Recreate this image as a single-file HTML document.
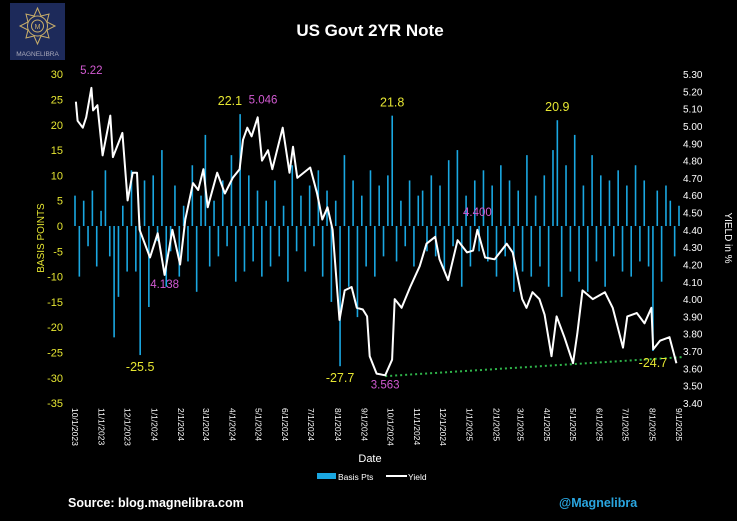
<!DOCTYPE html>
<html><head><meta charset="utf-8">
<style>
html,body{margin:0;padding:0;background:#000;}
body{width:737px;height:516px;overflow:hidden;font-family:"Liberation Sans",sans-serif;}
svg text{font-family:"Liberation Sans",sans-serif;}
</style></head>
<body>
<svg id="chart" width="737" height="516" viewBox="0 0 737 516" xmlns="http://www.w3.org/2000/svg">
<rect width="737" height="516" fill="#000"/>
<g>
<rect x="10" y="3" width="55" height="57" fill="#1d2a5a"/>
<g fill="none" stroke="#c9ae6a" stroke-width="1">
<polygon points="37.5,8 41,16 49,14 47,22 55,26 47,30 49,38 41,36 37.5,44 34,36 26,38 28,30 20,26 28,22 26,14 34,16"/>
<circle cx="37.5" cy="26" r="10"/>
<circle cx="37.5" cy="26" r="6"/>
</g>
<text x="37.5" y="29" font-size="7" fill="#c9ae6a" text-anchor="middle">M</text>
<text x="37.5" y="56" font-size="6.5" fill="#aab" text-anchor="middle">MAGNELIBRA</text>
</g>
<text x="370" y="36" font-size="17" font-weight="bold" fill="#fff" text-anchor="middle">US Govt 2YR Note</text>
<text transform="translate(44,238) rotate(-90)" font-size="10" fill="#e6e632" text-anchor="middle">BASIS POINTS</text>
<text transform="translate(725,238) rotate(90)" font-size="10" fill="#fff" text-anchor="middle">YIELD in %</text>
<g id="leftTicks"></g>
<g id="rightTicks"></g>
<g id="xTicks"></g>
<g id="bars"></g>
<g id="lines"></g>
<g id="annots"></g>
<text x="370" y="462" font-size="11" fill="#fff" text-anchor="middle">Date</text>
<g>
<rect x="317" y="473" width="19" height="6" fill="#1aa7e1"/>
<text x="338" y="480" font-size="8.5" fill="#fff">Basis Pts</text>
<line x1="386" y1="476" x2="407" y2="476" stroke="#fff" stroke-width="2"/>
<text x="408" y="480" font-size="8.5" fill="#fff">Yield</text>
</g>
<text x="68" y="507" font-size="12.5" font-weight="bold" fill="#fff">Source: blog.magnelibra.com</text>
<text x="559" y="507" font-size="12.5" font-weight="bold" fill="#2aa6e0">@Magnelibra</text>
</svg>
<script>
const leftTickVals = [30,25,20,15,10,5,0,-5,-10,-15,-20,-25,-30,-35];
const rightTickVals = [5.30,5.20,5.10,5.00,4.90,4.80,4.70,4.60,4.50,4.40,4.30,4.20,4.10,4.00,3.90,3.80,3.70,3.60,3.50,3.40];
const monthLabels = ["10/1/2023","11/1/2023","12/1/2023","1/1/2024","2/1/2024","3/1/2024","4/1/2024","5/1/2024","6/1/2024","7/1/2024","8/1/2024","9/1/2024","10/1/2024","11/1/2024","12/1/2024","1/1/2025","2/1/2025","3/1/2025","4/1/2025","5/1/2025","6/1/2025","7/1/2025","8/1/2025","9/1/2025"];
const yieldDays = [1,3,9,13,19,21,26,32,41,44,55,61,67,72,75,87,96,104,113,122,128,137,143,149,154,165,174,183,191,195,200,205,212,217,224,229,241,249,253,258,273,281,287,293,299,307,313,321,327,334,339,342,350,360,368,371,379,389,400,408,418,423,433,444,455,462,467,476,487,501,508,519,524,531,539,545,553,559,568,578,583,589,601,615,624,636,641,652,661,669,671,679,690,698];
const yieldVals = [5.14,5.03,4.99,5.05,5.22,5.09,5.12,4.83,5.06,4.82,4.96,4.57,4.73,4.73,4.40,4.24,4.38,4.14,4.40,4.20,4.46,4.67,4.63,4.75,4.53,4.73,4.61,4.70,4.75,4.92,4.99,4.94,5.05,4.80,4.86,4.75,4.99,4.73,4.88,4.70,4.76,4.61,4.46,4.53,4.40,3.88,4.05,4.07,3.95,3.94,3.90,3.67,3.57,3.56,3.65,4.00,3.95,4.07,4.19,4.32,4.36,4.23,4.11,4.34,4.27,4.28,4.40,4.24,4.23,4.32,4.27,4.00,3.95,4.04,4.00,3.91,3.67,3.90,3.78,3.63,3.80,4.05,4.00,4.04,3.95,3.72,3.90,3.92,3.86,3.95,3.71,3.76,3.78,3.63];
const bpsVals = [6,-10,5,-4,7,-8,3,11,-6,-22,-14,4,-9,11,-9,-25.5,9,-16,10,-3,15,-12,-5,8,-10,4,-7,12,-13,6,18,-8,5,-6,9,-4,14,-11,22.1,-9,10,-7,7,-10,5,-8,9,-6,4,-11,12,-5,6,-9,8,-4,11,-10,7,-15,5,-27.7,14,-12,9,-18,6,-8,11,-10,8,-6,10,21.8,-7,5,-4,9,-8,6,7,-5,10,-6,8,-9,13,-4,15,-12,6,-8,9,-5,11,-7,8,-10,12,-6,9,-13,7,-9,14,-10,6,-8,10,-12,15,20.9,-14,12,-9,18,-11,8,-13,14,-7,10,-12,9,-6,11,-9,8,-10,12,-7,9,-8,-24.7,7,-11,8,5,-6,4];
const trendDays = [360,705];
const trendVals = [3.555,3.665];
const yieldNotes = [["5.22",19,"#d25ad2"],["5.046",212,"#d25ad2"],["4.138",104,"#d25ad2"],["4.400",467,"#d25ad2"],["3.563",360,"#d25ad2"]];
const bpsNotes = [["22.1",38],["21.8",73],["20.9",111],["-25.5",15],["-27.7",61],["-24.7",133]];

const NS="http://www.w3.org/2000/svg";
const TOTAL_DAYS=701;
function xOfDay(d){return 75+d*(604/TOTAL_DAYS);}
function yLeft(v){return 226-v*(329/65);}
function yRight(v){return 74+(5.30-v)*(329/1.9);}
function mk(tag,attrs,parent){const e=document.createElementNS(NS,tag);for(const k in attrs)e.setAttribute(k,attrs[k]);parent.appendChild(e);return e;}

const lt=document.getElementById('leftTicks');
leftTickVals.forEach(v=>{const t=mk('text',{x:63,y:yLeft(v)+4,'font-size':11,fill:'#e6e632','text-anchor':'end'},lt);t.textContent=v;

});
const rt=document.getElementById('rightTicks');
rightTickVals.forEach(v=>{const t=mk('text',{x:683,y:yRight(v)+4,'font-size':10,fill:'#fff'},rt);t.textContent=v.toFixed(2);

});
const xt=document.getElementById('xTicks');
const base=Date.UTC(2023,9,1);
monthLabels.forEach(lbl=>{const p=lbl.split('/');const d=(Date.UTC(+p[2],+p[0]-1,+p[1])-base)/86400000;const x=xOfDay(d);
const t=mk('text',{transform:`translate(${x-3},408) rotate(90)`,'font-size':8.5,fill:'#fff'},xt);t.textContent=lbl;

});

const bg=document.getElementById('bars');
const n=bpsVals.length;
bpsVals.forEach((v,i)=>{const x=xOfDay(i*TOTAL_DAYS/(n-1));const y0=yLeft(0),y1=yLeft(v);
const r=mk('rect',{x:x-0.8,y:Math.min(y0,y1),width:1.6,height:Math.max(0.5,Math.abs(y1-y0)),fill:'#1aa7e1'},bg);

});

const lg=document.getElementById('lines');
const tl=mk('line',{x1:xOfDay(trendDays[0]),y1:yRight(trendVals[0]),x2:xOfDay(trendDays[1]),y2:yRight(trendVals[1]),stroke:'#2fb44a','stroke-width':2,'stroke-dasharray':'2,3'},lg);


const pts=yieldDays.map((d,i)=>xOfDay(d).toFixed(1)+','+yRight(yieldVals[i]).toFixed(1)).join(' ');
const pl=mk('polyline',{points:pts,fill:'none',stroke:'#fff','stroke-width':2,'stroke-linejoin':'round'},lg);



const an=document.getElementById('annots');
yieldNotes.forEach(([txt,d,c])=>{const i=yieldDays.indexOf(d);const x=xOfDay(d),y=yRight(yieldVals[i]);const low=yieldVals[i]<4.2&&txt!=="4.400";
const ty=low? y+13 : y-14;
const t=mk('text',{x:txt==="5.046"?x-9:x,y:ty,'font-size':11.5,fill:c,'text-anchor':txt==="5.046"?'start':'middle'},an);t.textContent=txt;

});
bpsNotes.forEach(([txt,i])=>{const v=bpsVals[i];const x=xOfDay(i*TOTAL_DAYS/(n-1));const y=yLeft(v);
const ty=v>0? y-9 : y+16;
const t=mk('text',{x:txt==="22.1"?x+2:x,y:ty,'font-size':12.5,fill:'#e6e632','text-anchor':txt==="22.1"?'end':'middle'},an);t.textContent=txt;

});
</script>
</body></html>
